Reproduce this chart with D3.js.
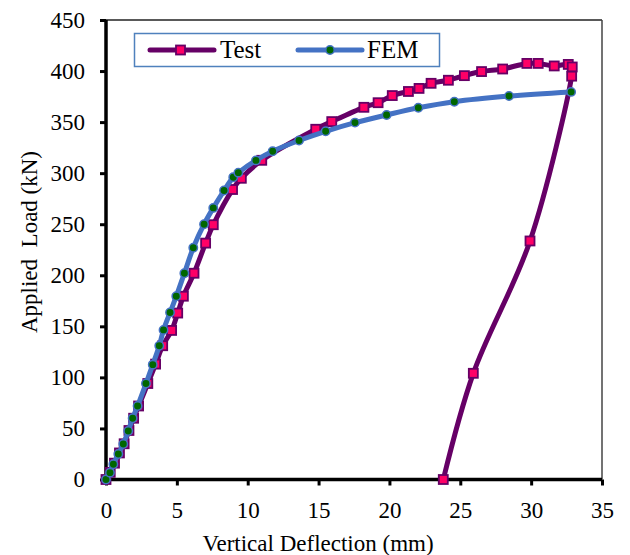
<!DOCTYPE html>
<html>
<head>
<meta charset="utf-8">
<script src="https://cdn.jsdelivr.net/npm/d3@7"></script>
<style>
  html, body { margin: 0; padding: 0; background: #fff; }
  svg { display: block; }
  text { font-family: "Liberation Serif", "Times New Roman", serif; fill: #000; }
</style>
</head>
<body>
<svg id="chart" width="630" height="555"></svg>
<script>
// ---- data ----
const testX = [0, 0.3, 0.6, 0.95, 1.28, 1.62, 1.95, 2.3, 2.95, 3.5, 4.0, 4.63, 5.06, 5.46, 6.21, 7.03, 7.57, 8.93, 9.55, 10.99, 14.8, 15.93, 18.2, 19.2, 20.2, 21.34, 22.09, 22.94, 24.16, 25.29, 26.5, 27.99, 29.7, 30.5, 31.63, 32.62, 32.9, 32.86, 29.92, 25.92, 23.8];
const testY = [0, 7, 16, 26, 35, 48, 60, 72, 94, 113, 131, 146, 163, 179.5, 202, 231.5, 249.5, 284, 295, 312.6, 343, 350.5, 364.5, 369, 376, 380, 383, 388, 391, 395.5, 399.5, 402, 407.5, 407.5, 405, 406.5, 404, 395, 233.6, 104, 0];
const femX = [0, 0.28, 0.52, 0.87, 1.22, 1.57, 1.88, 2.23, 2.82, 3.3, 3.76, 4.06, 4.52, 4.96, 5.53, 6.16, 6.92, 7.57, 8.33, 8.98, 9.34, 10.58, 11.76, 13.62, 15.5, 17.57, 19.8, 22.04, 24.58, 28.44, 32.82];
const femY = [0, 6.7, 15, 25, 34.7, 47.5, 60, 72, 94, 112.5, 131, 146.5, 163.5, 179.5, 202, 227, 250, 266, 283, 296, 300.5, 312.5, 321.5, 332, 341, 349.5, 357, 364, 370, 375.5, 379.6];
const xTicks = [0, 5, 10, 15, 20, 25, 30, 35];
const yTicks = [0, 50, 100, 150, 200, 250, 300, 350, 400, 450];
const seriesNames = ["Test", "FEM"];

// ---- layout ----
const svg = d3.select("#chart");
const L = 106, R = 602, T = 20, B = 479.5;
const x = d3.scaleLinear().domain([0, 35]).range([L, R]);
const y = d3.scaleLinear().domain([0, 450]).range([B, T]);

const testColor = "#660066", testFill = "#FF0066";
const femColor = "#4472C4", femFill = "#006600";

// plot border (top & right thin)
svg.append("line").attr("x1", L).attr("x2", R).attr("y1", T).attr("y2", T)
  .attr("stroke", "#222").attr("stroke-width", 1.5);
svg.append("line").attr("x1", R).attr("x2", R).attr("y1", T).attr("y2", B)
  .attr("stroke", "#444").attr("stroke-width", 1.5);

// axes
const xAxis = d3.axisBottom(x).tickValues(xTicks).tickSize(6).tickPadding(16).tickFormat(d3.format("d"));
const yAxis = d3.axisLeft(y).tickValues(yTicks).tickSize(6).tickPadding(15).tickFormat(d3.format("d"));

const gx = svg.append("g").attr("transform", `translate(0,${B})`).call(xAxis);
const gy = svg.append("g").attr("transform", `translate(${L},0)`).call(yAxis);
[gx, gy].forEach(g => {
  g.select(".domain").attr("stroke", "#000").attr("stroke-width", 3.5);
  g.selectAll(".tick line").attr("stroke", "#000").attr("stroke-width", 3);
  g.selectAll(".tick text").attr("font-size", 23).attr("font-family", "Liberation Serif").attr("fill", "#222");
});
gx.select(".domain").attr("d", `M${L},0H${R}`);
gy.select(".domain").attr("d", `M0,${B}V${T}`);

// axis titles
svg.append("text").attr("x", 318).attr("y", 551).attr("text-anchor", "middle")
  .attr("font-size", 23).attr("fill", "#222").text("Vertical Deflection (mm)");
svg.append("text").attr("transform", "translate(37,242) rotate(-90)").attr("text-anchor", "middle")
  .attr("font-size", 23).attr("fill", "#222").attr("xml:space", "preserve")
  .style("white-space", "pre").text("Applied  Load (kN)");

// series
const testData = testX.map((d, i) => [d, testY[i]]);
const femData = femX.map((d, i) => [d, femY[i]]);
const line = d3.line().x(d => x(d[0])).y(d => y(d[1])).curve(d3.curveCatmullRom.alpha(0.5));

svg.append("path").datum(testData).attr("d", line)
  .attr("fill", "none").attr("stroke", testColor).attr("stroke-width", 5).attr("stroke-linejoin", "round");
svg.append("g").selectAll("rect").data(testData).join("rect")
  .attr("x", d => x(d[0]) - 4.5).attr("y", d => y(d[1]) - 4.5)
  .attr("width", 9).attr("height", 9)
  .attr("fill", testFill).attr("stroke", testColor).attr("stroke-width", 1.8);

svg.append("path").datum(femData).attr("d", line)
  .attr("fill", "none").attr("stroke", femColor).attr("stroke-width", 5).attr("stroke-linejoin", "round");
svg.append("g").selectAll("circle").data(femData).join("circle")
  .attr("cx", d => x(d[0])).attr("cy", d => y(d[1])).attr("r", 4.2)
  .attr("fill", femFill).attr("stroke", femColor).attr("stroke-width", 1.5);

// legend
const lg = svg.append("g");
lg.append("rect").attr("x", 134.5).attr("y", 33.5).attr("width", 305).attr("height", 33)
  .attr("fill", "#fff").attr("stroke", "#4F81BD").attr("stroke-width", 1.5);
// Test
lg.append("line").attr("x1", 150).attr("x2", 214).attr("y1", 50).attr("y2", 50)
  .attr("stroke", testColor).attr("stroke-width", 5).attr("stroke-linecap", "round");
lg.append("rect").attr("x", 176).attr("y", 45.5).attr("width", 9).attr("height", 9)
  .attr("fill", testFill).attr("stroke", testColor).attr("stroke-width", 1.8);
lg.append("text").attr("x", 220).attr("y", 58).attr("font-size", 25).text(seriesNames[0]);
// FEM
lg.append("line").attr("x1", 298).attr("x2", 362).attr("y1", 50).attr("y2", 50)
  .attr("stroke", femColor).attr("stroke-width", 5).attr("stroke-linecap", "round");
lg.append("circle").attr("cx", 330).attr("cy", 50).attr("r", 4.2)
  .attr("fill", femFill).attr("stroke", femColor).attr("stroke-width", 1.5);
lg.append("text").attr("x", 367).attr("y", 58).attr("font-size", 25).text(seriesNames[1]);
</script>
</body>
</html>
